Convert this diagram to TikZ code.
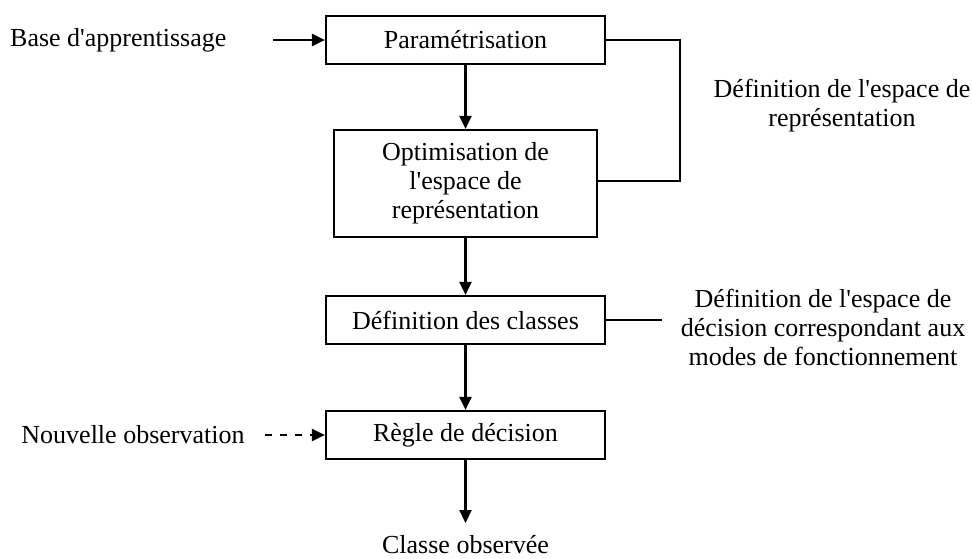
\documentclass[tikz,border=0pt]{standalone}
\usepackage{fontspec}
\setmainfont{Liberation Serif}
\usetikzlibrary{arrows.meta}

% straight apostrophe, as typed
\newcommand{\apos}{\textquotesingle}

\tikzset{
  stage/.style={draw, line width=2.2pt, inner sep=0pt, align=center},
  label/.style={inner sep=0pt, align=center},
  flow/.style={line width=2.2pt, -{Triangle[length=13pt,width=12pt]}},
  link/.style={line width=1.8pt},
}

\begin{document}
\begin{tikzpicture}[x=1pt, y=-1pt, font=\fontsize{26}{29}\selectfont]
  \useasboundingbox (0,0) rectangle (972,558);

  % processing stages
  \node[stage, minimum width=279pt, minimum height=48pt] (param) at (465.5,40) {Paramétrisation};
  \node[stage, minimum width=263pt, minimum height=107pt] (optim) at (465.5,183.5)
    {Optimisation de\\l\apos espace de\\représentation};
  \node[stage, minimum width=279pt, minimum height=48pt] (classes) at (465.5,320) {Définition des classes};
  \node[stage, minimum width=279pt, minimum height=48pt] (regle) at (465.5,435) {Règle de décision};

  % side texts
  \node[label, anchor=west] (base) at (10,40) {Base d\apos apprentissage};
  \node[label] (espace) at (842,106) {Définition de l\apos espace de\\représentation};
  \node[label] (decision) at (823,327) {Définition de l\apos espace de\\décision correspondant aux\\modes de fonctionnement};
  \node[label] (nouvelle) at (133,435) {Nouvelle observation};
  \node[label, anchor=base] (sortie) at (465.5,553) {Classe observée};

  % free ends of connectors
  \coordinate (baseend) at (273,40);
  \coordinate (obsend) at (265,435);
  \coordinate (fbtop) at (680,40);
  \coordinate (fbbot) at (680,181);
  \coordinate (decend) at (662,320);
  \coordinate (outend) at (465.5,523);

  % main flow
  \draw[flow] (baseend) -- (param.west);
  \draw[flow] (param.south) -- (optim.north);
  \draw[flow] (optim.south) -- (classes.north);
  \draw[flow] (classes.south) -- (regle.north);
  \draw[flow] (regle.south) -- (outend);
  \draw[flow, dash pattern=on 7pt off 8pt] (obsend) -- (regle.west);

  % bracket joining the representation stages
  \draw[link] (param.east) -- (fbtop) -- (fbbot) -- (fbbot -| optim.east);
  \draw[link] (classes.east) -- (decend);
\end{tikzpicture}
\end{document}
